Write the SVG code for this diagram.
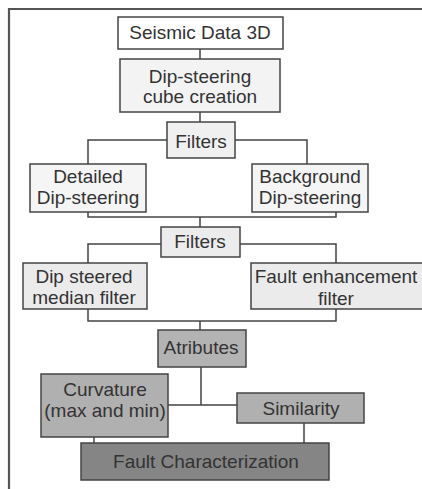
<svg xmlns="http://www.w3.org/2000/svg" width="422" height="489" viewBox="0 0 422 489">
<style>
.box{stroke:#444;stroke-width:1.5}
.t{font-family:"Liberation Sans",Arial,sans-serif;font-size:19px;fill:#333;text-anchor:middle}
.c{fill:none;stroke:#444;stroke-width:1.5}
</style>
<rect width="422" height="489" fill="#fff"/>
<path d="M9,489 V9 H422" fill="none" stroke="#555" stroke-width="2.2"/>
<g id="connectors" class="c">
<path d="M200,49 V59"/>
<path d="M200,112 V122"/>
<path d="M167,140 H88 V164 M235,140 H307 V164"/>
<path d="M88,212 V217 H336 V212 M200,217 V227"/>
<path d="M161,244 H88 V263 M240,244 H336 V263"/>
<path d="M88,309 V321 H336 V309 M200,321 V330"/>
<path d="M201,367 V405 M168,405 H237"/>
<path d="M94,437 V443 M304,423 V443"/>
</g>
<g id="seismic"><rect class="box" x="118" y="17" width="165" height="32" fill="#fff"/><text class="t" x="200" y="39">Seismic Data 3D</text></g>
<g id="dipcube"><rect class="box" x="120" y="59" width="160" height="53" fill="#f3f3f3"/><text class="t" x="200" y="83">Dip-steering</text><text class="t" x="200" y="103">cube creation</text></g>
<g id="filters1"><rect class="box" x="167" y="122" width="68" height="36" fill="#f0f0f0"/><text class="t" x="201" y="148">Filters</text></g>
<g id="detailed"><rect class="box" x="30" y="164" width="116" height="48" fill="#f5f5f5"/><text class="t" x="88" y="183">Detailed</text><text class="t" x="88" y="204">Dip-steering</text></g>
<g id="background"><rect class="box" x="252" y="164" width="116" height="48" fill="#f5f5f5"/><text class="t" x="310" y="183">Background</text><text class="t" x="310" y="204">Dip-steering</text></g>
<g id="filters2"><rect class="box" x="161" y="227" width="79" height="30" fill="#ececec"/><text class="t" x="200" y="248">Filters</text></g>
<g id="median"><rect class="box" x="23" y="263" width="124" height="46" fill="#ebebeb"/><text class="t" x="84" y="283">Dip steered</text><text class="t" x="84" y="304">median filter</text></g>
<g id="faultenh"><rect class="box" x="251" y="263" width="180" height="46" fill="#ebebeb"/><text class="t" x="336" y="283">Fault enhancement</text><text class="t" x="336" y="305">filter</text></g>
<g id="atributes"><rect class="box" x="158" y="330" width="88" height="37" fill="#b3b3b3"/><text class="t" x="201" y="354">Atributes</text></g>
<g id="curvature"><rect class="box" x="41" y="374" width="127" height="63" fill="#b0b0b0"/><text class="t" x="105" y="396">Curvature</text><text class="t" x="105" y="417">(max and min)</text></g>
<g id="similarity"><rect class="box" x="237" y="393" width="127" height="30" fill="#b0b0b0"/><text class="t" x="301" y="415">Similarity</text></g>
<g id="faultchar"><rect class="box" x="81" y="443" width="248" height="37" fill="#858585"/><text class="t" x="206" y="468">Fault Characterization</text></g>
</svg>
